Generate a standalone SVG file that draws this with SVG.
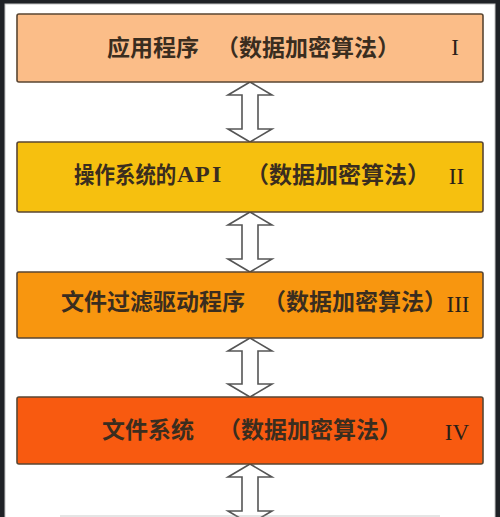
<svg xmlns="http://www.w3.org/2000/svg" width="500" height="517" viewBox="0 0 500 517">
<style>
.box{stroke:#5a4632;stroke-width:1.6}
.t{font-family:"Noto Sans CJK SC","Noto Sans",sans-serif;font-weight:bold;font-size:23px;fill:#3a2d1f}
.api{font-family:"Liberation Serif",serif;font-weight:bold;font-size:24px;fill:#3a2d1f}
.n{font-family:"Liberation Serif",serif;font-size:23px;fill:#2a2018;text-anchor:middle}
.arr{fill:#fff;stroke:#555;stroke-width:1.6;stroke-linejoin:miter}
</style>
<rect x="0" y="0" width="500" height="517" fill="#1f2226"/>
<rect x="5" y="4" width="490" height="520" fill="#fff" stroke="#c4c4c4" stroke-width="1"/>
<g id="connectors">
<path class="arr" d="M250,82 L272,95 L258,95 L258,129 L272,129 L250,142 L228,129 L242,129 L242,95 L228,95 Z"/>
<path class="arr" d="M250,212 L272,225 L258,225 L258,259 L272,259 L250,272 L228,259 L242,259 L242,225 L228,225 Z"/>
<path class="arr" d="M250,338 L272,351 L258,351 L258,384 L272,384 L250,397 L228,384 L242,384 L242,351 L228,351 Z"/>
<path class="arr" d="M250,464 L272,477 L258,477 L258,511 L272,511 L250,524 L228,511 L242,511 L242,477 L228,477 Z"/>
</g>
<line x1="60" y1="516" x2="440" y2="516" stroke="#999" stroke-width="1" opacity="0.5"/>
<g id="n1">
<rect class="box" x="17" y="14" width="466" height="68" rx="2" fill="#fbbd88"/>
<text class="t" y="56"><tspan x="107">应用程序</tspan><tspan x="216">（数据加密算法）</tspan></text>
<text class="n" x="455" y="55">I</text>
</g>
<g id="n2">
<rect class="box" x="17" y="142" width="466" height="70" rx="2" fill="#f6c00f"/>
<text class="t" transform="translate(74,183) scale(0.89,1)" x="0" y="0">操作系统的</text>
<text class="api" y="182"><tspan x="177 195 212">API</tspan></text>
<text class="t" x="246" y="183">（数据加密算法）</text>
<text class="n" x="456.5" y="184">II</text>
</g>
<g id="n3">
<rect class="box" x="17" y="272" width="466" height="66" rx="2" fill="#f8960f"/>
<text class="t" y="310"><tspan x="61">文件过滤驱动程序</tspan><tspan x="263">（数据加密算法）</tspan></text>
<text class="n" x="458" y="312">III</text>
</g>
<g id="n4">
<rect class="box" x="17" y="397" width="466" height="67" rx="2" fill="#f85a10"/>
<text class="t" y="438"><tspan x="102">文件系统</tspan><tspan x="218">（数据加密算法）</tspan></text>
<text class="n" x="457" y="440">IV</text>
</g>
</svg>
